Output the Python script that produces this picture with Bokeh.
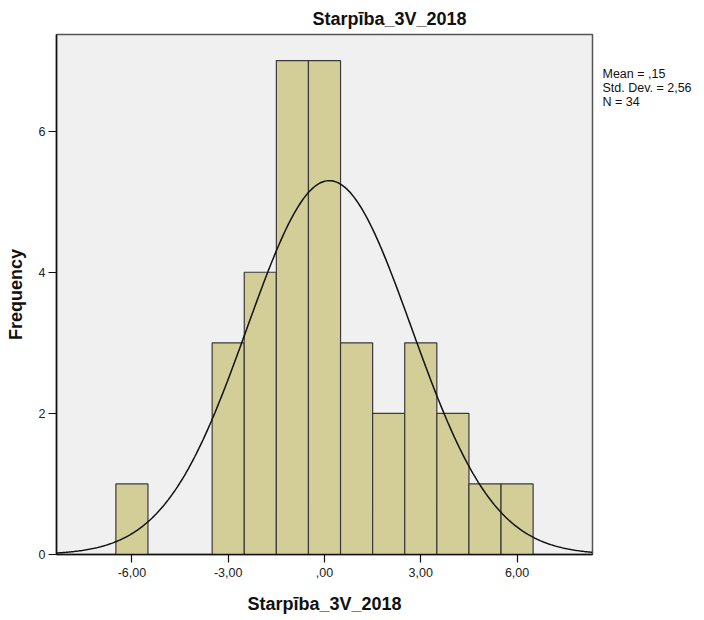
import numpy as np
from bokeh.plotting import figure
from bokeh.layouts import row
from bokeh.models import Range1d, FixedTicker, ColumnDataSource
from bokeh.embed import file_html
from bokeh.resources import INLINE

# ---- data ----
bin_centers = [-6, -3, -2, -1, 0, 1, 2, 3, 4, 5, 6]
frequencies = [1, 3, 4, 7, 7, 3, 2, 3, 2, 1, 1]
bin_width = 1.0
mean_val = 0.15
std_val = 2.56
n_val = 34
x_ticks = [-6, -3, 0, 3, 6]
x_tick_labels = ["-6,00", "-3,00", ",00", "3,00", "6,00"]
y_ticks = [0, 2, 4, 6]
title_text = "Starpība_3V_2018"
stats_lines = ["Mean = ,15", "Std. Dev. = 2,56", "N = 34"]

FONT = "Liberation Sans"
H = 618
FRAME_TOP = 33
FRAME_BOTTOM = 554
P_WIDTH = 596
W2 = 100

p = figure(width=P_WIDTH, height=H, output_backend="svg", toolbar_location=None,
           x_range=Range1d(-8.35, 8.35), y_range=Range1d(0, 7.37),
           min_border_left=56, min_border_right=4, min_border_top=FRAME_TOP,
           min_border_bottom=H - FRAME_BOTTOM)
p.background_fill_color = "#f0f0f0"
p.border_fill_color = "white"
p.outline_line_color = "#555555"
p.outline_line_width = 1.5
p.xgrid.visible = False
p.ygrid.visible = False

p.title.text = title_text
p.title.align = "left"
p.title.offset = 256
p.title.text_font = FONT
p.title.text_font_style = "bold"
p.title.text_font_size = "18px"
p.title.text_color = "#111111"
p.title.standoff = 12

src = ColumnDataSource(dict(x=bin_centers, top=frequencies))
p.vbar(x="x", top="top", bottom=0, width=bin_width, source=src,
       fill_color="#d3ce97", line_color="#3a3a3a", line_width=1.2)

xs = np.linspace(-8.35, 8.35, 400)
ys = n_val * bin_width / (std_val * np.sqrt(2 * np.pi)) * np.exp(-0.5 * ((xs - mean_val) / std_val) ** 2)
p.line(xs, ys, line_color="#111111", line_width=1.5)

for ax in (p.xaxis[0], p.yaxis[0]):
    ax.axis_line_color = "#111111"
    ax.axis_line_width = 1.5
    ax.major_tick_line_color = "#111111"
    ax.major_tick_line_width = 1.2
    ax.major_tick_out = 8
    ax.major_tick_in = 0
    ax.minor_tick_line_color = None
    ax.major_label_text_font = FONT
    ax.major_label_text_font_size = "12.5px"
    ax.major_label_text_color = "#222222"
    ax.axis_label_text_font = FONT
    ax.axis_label_text_font_style = "bold"
    ax.axis_label_text_font_size = "18px"
    ax.axis_label_text_color = "#111111"

p.xaxis.ticker = FixedTicker(ticks=x_ticks)
p.xaxis.major_label_overrides = {t: l for t, l in zip(x_ticks, x_tick_labels)}
p.xaxis.major_label_standoff = 5
p.xaxis.axis_label = title_text
p.xaxis.axis_label_standoff = 14

p.yaxis.ticker = FixedTicker(ticks=y_ticks)
p.yaxis.major_label_standoff = 3
p.yaxis.axis_label = "Frequency"
p.yaxis.axis_label_standoff = 10

# right-hand statistics panel (its frame is aligned with the main frame;
# ranges are set so that data units equal page pixels)
p2 = figure(width=W2, height=H, output_backend="svg", toolbar_location=None, title=None,
            x_range=Range1d(P_WIDTH, P_WIDTH + W2), y_range=Range1d(FRAME_BOTTOM, FRAME_TOP),
            x_axis_type=None, y_axis_type=None,
            min_border_left=0, min_border_right=0, min_border_top=FRAME_TOP,
            min_border_bottom=H - FRAME_BOTTOM)
p2.outline_line_color = None
p2.background_fill_color = "white"
p2.border_fill_color = "white"
p2.xgrid.visible = False
p2.ygrid.visible = False
stats_src = ColumnDataSource(dict(x=[602, 602, 602], y=[73, 87, 101], t=stats_lines))
p2.text(x="x", y="y", text="t", source=stats_src, text_font={"value": FONT},
        text_font_size={"value": "12.5px"}, text_align="left", text_baseline="alphabetic",
        text_color="#111111")

layout = row(p, p2, spacing=0)
open("out.html", "w").write(file_html(layout, INLINE))
